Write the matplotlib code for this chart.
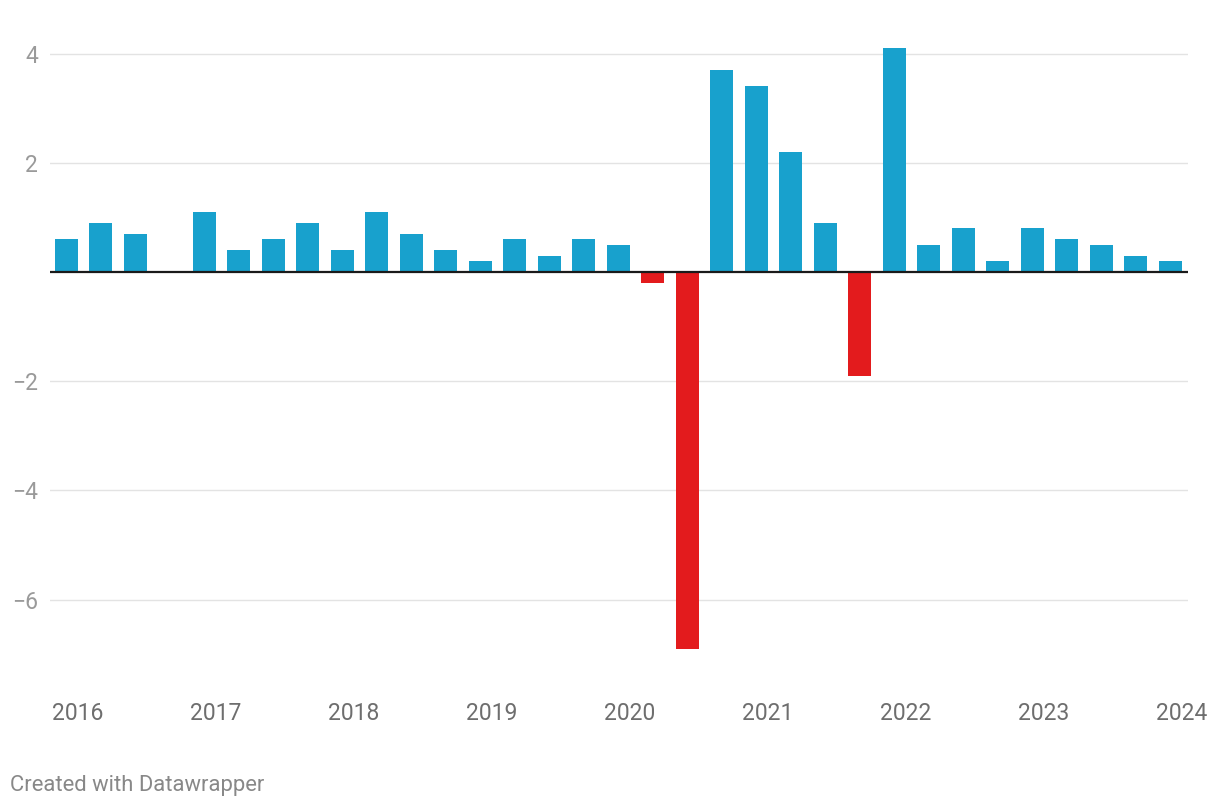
import matplotlib
matplotlib.use("Agg")
import matplotlib.pyplot as plt
import numpy as np

plt.rcParams['font.family'] = ['Roboto', 'DejaVu Sans']

# Quarterly values (2016 Q1 .. 2024 Q1)
values = [0.6, 0.9, 0.7, 0.0,
          1.1, 0.4, 0.6, 0.9,
          0.4, 1.1, 0.7, 0.4,
          0.2, 0.6, 0.3, 0.6,
          0.5, -0.2, -6.9, 3.7,
          3.4, 2.2, 0.9, -1.9,
          4.1, 0.5, 0.8, 0.2,
          0.8, 0.6, 0.5, 0.3,
          0.2]
year_labels = ["2016", "2017", "2018", "2019", "2020", "2021", "2022", "2023", "2024"]
y_ticks = [4, 2, -2, -4, -6]

BLUE = "#18a1cd"
RED = "#e31b1d"

W, H = 1220, 808
fig = plt.figure(figsize=(W / 100, H / 100), dpi=100)

ymin, ymax = -7.0, 4.3
px_per_unit = 54.6
zero_px = 272
top_px = zero_px - ymax * px_per_unit
bot_px = zero_px - ymin * px_per_unit
left_px, right_px = 50, 1188
ax = fig.add_axes([left_px / W, 1 - bot_px / H, (right_px - left_px) / W, (bot_px - top_px) / H])

x = np.arange(len(values))
colors = [BLUE if v >= 0 else RED for v in values]
ax.bar(x, values, width=0.667, color=colors, zorder=3)

ax.set_xlim(-0.478, 32.51)
ax.set_ylim(ymin, ymax)

for t in y_ticks:
    ax.axhline(t, color="#e3e3e3", lw=1.0, zorder=1)
ax.axhline(0, color="#1a1a1a", lw=1.6, zorder=4)

for s in ax.spines.values():
    s.set_visible(False)
ax.set_yticks(y_ticks)
ax.set_yticklabels([("−" + str(abs(t))) if t < 0 else str(t) for t in y_ticks],
                   fontsize=16.5, color="#9a9a9a")
ax.tick_params(axis='y', length=0, pad=8.5)

tick_pos = [4 * i + 1 / 3 for i in range(len(year_labels))]
ax.set_xticks(tick_pos)
ax.set_xticklabels(year_labels, fontsize=16.5, color="#6e6e6e")
ax.tick_params(axis='x', length=0)
for lbl in ax.get_xticklabels():
    lbl.set_verticalalignment('center')
ax.tick_params(axis='x', pad=(714 - bot_px) * 72 / 100)

fig.text(10 / W, 1 - 786 / H, "Created with Datawrapper", fontsize=15.8,
         color="#888888", ha="left", va="center")

fig.savefig("out.png", dpi=100, facecolor="white")
